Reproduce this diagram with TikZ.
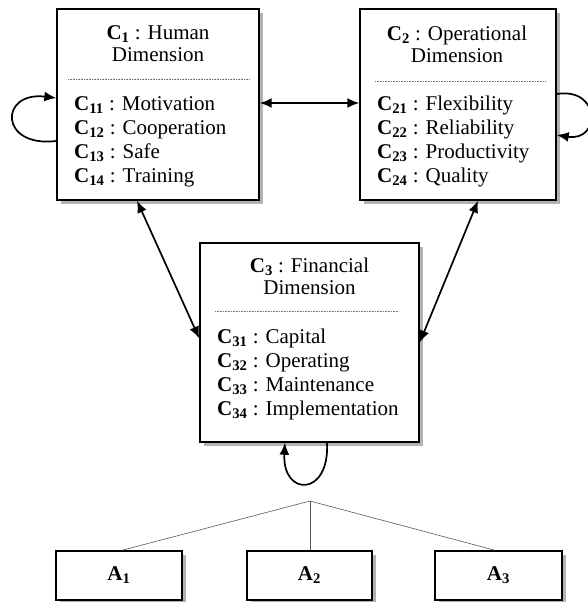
\documentclass[tikz,border=0pt]{standalone}
\usepackage{fontspec}
\setmainfont{Liberation Serif}
\usetikzlibrary{shadows,arrows.meta,calc}
\newcommand{\ckey}[1]{\textbf{C\textsubscript{#1}}}
\newcommand{\akey}[1]{\textbf{A\textsubscript{#1}}}
\tikzset{
  box/.style={draw, line width=1.4pt, fill=white, rectangle,
    drop shadow={shadow xshift=4pt, shadow yshift=-4pt, fill=black!30, opacity=1}},
  ttl/.style={align=center, inner sep=0pt, font=\fontsize{21}{22}\selectfont},
  itm/.style={align=left, inner sep=0pt, anchor=west, font=\fontsize{21}{24}\selectfont},
  sep/.style={densely dotted, black!55, line width=0.6pt},
  arr/.style={line width=1.7pt, -{Latex[length=12pt,width=10pt]}},
  darr/.style={line width=1.7pt, {Latex[length=12pt,width=10pt]}-{Latex[length=12pt,width=10pt]}},
  tree/.style={black!65, line width=0.6pt},
  albl/.style={inner sep=0pt, font=\fontsize{21}{24}\selectfont}
}
\begin{document}
\begin{tikzpicture}[x=1pt,y=-1pt]
\useasboundingbox (0,0) rectangle (587,602);
% boxes
\node[box, minimum width=202pt, minimum height=191pt] (c1) at (158,104.5) {};
\node[box, minimum width=196pt, minimum height=191pt] (c2) at (458,104.5) {};
\node[box, minimum width=219pt, minimum height=199pt] (c3) at (309.5,342.5) {};
\node[box, minimum width=126pt, minimum height=49pt] (a1) at (119,575.5) {};
\node[box, minimum width=125pt, minimum height=49pt] (a2) at (309.5,575.5) {};
\node[box, minimum width=127pt, minimum height=49pt] (a3) at (498.5,575.5) {};
% texts C1
\node[ttl] (c1t) at (158,44) {\ckey{1} : Human\\Dimension};
\draw[sep] (68,79) -- (249,79);
\node[itm] (c1i) at (74,141.5) {\ckey{11} : Motivation\\\ckey{12} : Cooperation\\\ckey{13} : Safe\\\ckey{14} : Training};
% texts C2
\node[ttl] (c2t) at (457,44) {\ckey{2} : Operational\\Dimension};
\draw[sep] (375,81) -- (545,81);
\node[itm] (c2i) at (377,141.5) {\ckey{21} : Flexibility\\\ckey{22} : Reliability\\\ckey{23} : Productivity\\\ckey{24} : Quality};
% texts C3
\node[ttl] (c3t) at (309.5,276.5) {\ckey{3} : Financial\\Dimension};
\draw[sep] (215,311) -- (399,311);
\node[itm] (c3i) at (217,374.5) {\ckey{31} : Capital\\\ckey{32} : Operating\\\ckey{33} : Maintenance\\\ckey{34} : Implementation};
% A labels
\node[albl] (a1l) at (a1) {\akey{1}};
\node[albl] (a2l) at (a2) {\akey{2}};
\node[albl] (a3l) at (a3) {\akey{3}};
% connectors
\draw[darr] ($(c1.east)+(0,-1.5)$) -- ($(c2.west)+(0,-1.5)$);
\draw[darr] ($(c1.south)+(-21,0)$) -- ($(c3.west)+(0,-4)$);
\draw[darr] ($(c2.south)+(20,0)$) -- (c3.east);
% self loops
\draw[arr] ($(c1.west)+(0,36.5)$) .. controls (-1,148) and (-1,91) .. ($(c1.west)+(0,-6.5)$);
\draw[arr] ($(c2.east)+(0,-10.5)$) .. controls (601,87) and (601,142) .. ($(c2.east)+(0,30.5)$);
\draw[arr] ($(c3.south)+(17.5,0)$) .. controls (330,497) and (282,497) .. ($(c3.south)+(-24.5,0)$);
% tree
\coordinate (apex) at (310,501);
\draw[tree] (apex) -- ($(a1.north)+(3,0)$);
\draw[tree] (apex) -- (apex |- a2.north);
\draw[tree] (apex) -- ($(a3.north)+(-3.5,0)$);
\end{tikzpicture}
\end{document}
